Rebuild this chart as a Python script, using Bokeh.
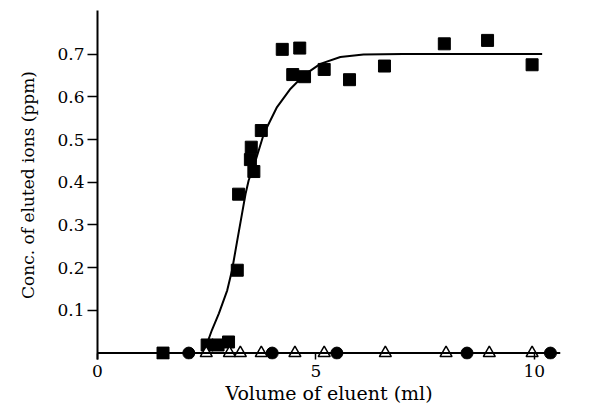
from bokeh.plotting import figure
from bokeh.models import FixedTicker, Range1d, Span
from bokeh.embed import file_html
from bokeh.resources import INLINE

# Data
sq_x = [1.50, 2.51, 2.76, 3.00, 3.20, 3.23, 3.58, 3.50, 3.52, 3.75, 4.23, 4.63, 4.47, 4.74, 5.19, 5.77, 6.57, 7.94, 8.93, 9.95]
sq_y = [0.0, 0.019, 0.019, 0.026, 0.194, 0.372, 0.425, 0.453, 0.482, 0.521, 0.711, 0.714, 0.652, 0.647, 0.664, 0.640, 0.672, 0.724, 0.732, 0.675]

circ_x = [2.09, 4.00, 5.48, 8.46, 10.37]
circ_y = [0.0, 0.0, 0.0, 0.0, 0.0]

tri_x = [2.49, 3.02, 3.27, 3.75, 4.52, 5.19, 6.59, 7.98, 8.97, 9.95]
tri_y = [0.0] * 10

curve_x = [2.51, 2.62, 2.78, 2.97, 3.08, 3.20, 3.31, 3.39, 3.46, 3.62, 3.81, 4.11, 4.42, 4.72, 5.10, 5.56, 6.09, 7.0, 8.0, 9.0, 10.18]
curve_y = [0.023, 0.054, 0.093, 0.147, 0.194, 0.264, 0.327, 0.373, 0.404, 0.451, 0.514, 0.576, 0.619, 0.650, 0.677, 0.693, 0.699, 0.700, 0.700, 0.700, 0.700]

y_ticks = [0.1, 0.2, 0.3, 0.4, 0.5, 0.6, 0.7]
x_ticks = [0, 5, 10]
baseline = 0.0

FONT = "DejaVu Serif"

p = figure(width=584, height=406, output_backend="svg", toolbar_location=None,
           x_range=Range1d(0, 10.6), y_range=Range1d(-0.015, 0.802),
           min_border_left=97, min_border_right=24, min_border_top=10, min_border_bottom=47)
p.outline_line_color = None
p.grid.visible = False
p.background_fill_color = "white"

p.add_layout(Span(location=baseline, dimension="width", line_color="black", line_width=2))

p.line(curve_x, curve_y, line_color="black", line_width=2)
p.scatter(sq_x, sq_y, marker="square", size=12, fill_color="black", line_color="black")
p.scatter(circ_x, circ_y, marker="circle", size=12, fill_color="black", line_color="black")
p.scatter(tri_x, tri_y, marker="triangle", size=12, fill_color="white", line_color="black", line_width=1.5)

# axes
p.xaxis.ticker = FixedTicker(ticks=x_ticks)
p.xaxis.minor_tick_line_color = None
p.xaxis.axis_line_color = None
p.xaxis.major_tick_in = 6
p.xaxis.major_tick_out = 0
p.xaxis.major_tick_line_width = 1.5
p.xaxis.axis_label = "Volume of eluent (ml)"
p.xaxis.major_label_standoff = 5
p.xaxis.axis_label_standoff = 2

p.yaxis.ticker = FixedTicker(ticks=y_ticks)
p.yaxis.minor_tick_line_color = None
p.yaxis.major_tick_in = 0
p.yaxis.major_tick_out = 10
p.yaxis.axis_line_width = 2
p.yaxis.axis_line_color = "black"
p.yaxis.major_tick_line_width = 1.5
p.yaxis.axis_label = "Conc. of eluted ions (ppm)"
p.yaxis.major_label_standoff = 3
p.yaxis.axis_label_standoff = 16

for ax in (p.xaxis, p.yaxis):
    ax.major_tick_line_color = "black"
    ax.major_label_text_font = FONT
    ax.major_label_text_font_size = "17px"
    ax.major_label_text_color = "black"
    ax.axis_label_text_font = FONT
    ax.axis_label_text_font_style = "normal"
    ax.axis_label_text_color = "black"
p.xaxis.axis_label_text_font_size = "19px"
p.yaxis.axis_label_text_font_size = "17px"

open("out.html", "w").write(file_html(p, INLINE))
